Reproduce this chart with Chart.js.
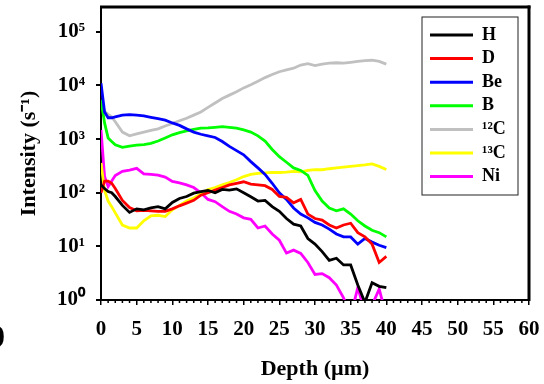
<!DOCTYPE html>
<html>
<head>
<meta charset="utf-8">
<script src="https://cdn.jsdelivr.net/npm/chart.js@4/dist/chart.umd.min.js"></script>
<style>
  html, body { margin: 0; padding: 0; background: #fff; }
</style>
</head>
<body>
<canvas id="simsChart" width="544" height="384"></canvas>
<script>
// depth in µm, shared by all series
const depth = [0, 0.5, 1, 1.5, 2, 3, 4, 5, 6, 7, 8, 9, 10, 11, 12, 13, 14, 15, 16, 17, 18, 19, 20,
  21, 22, 23, 24, 25, 26, 27, 28, 29, 30, 31, 32, 33, 34, 35, 36, 37, 38, 39, 40];

const hVals = [140, 120, 105, 100, 85, 58, 43, 50, 48, 52, 55, 50, 66, 78, 85, 98, 105, 110, 100, 115, 112, 118, 100,
  84, 70, 72, 55, 45, 33, 26, 24, 14, 11, 8, 5.5, 6, 4.5, 4.5, 1.9, 0.9, 2.1, 1.8, 1.7];
const dVals = [100, 165, 165, 150, 120, 72, 53, 46, 47, 46, 45, 45, 50, 57, 64, 72, 90, 100, 112, 125, 140, 150, 160,
  145, 140, 135, 115, 85, 82, 65, 75, 40, 33, 31, 25, 22, 25, 27, 18, 15, 11, 5, 6.5];
const beVals = [11000, 3200, 2500, 2500, 2600, 2800, 2850, 2800, 2700, 2550, 2400, 2250, 2000, 1800, 1550, 1350, 1230, 1150, 1070, 900, 730, 610, 510,
  380, 290, 220, 150, 100, 75, 52, 40, 34, 28, 25, 21, 17, 15, 15, 11, 14, 12, 10.5, 9.5];
const bVals = [5400, 2000, 1050, 900, 780, 700, 740, 770, 790, 830, 920, 1050, 1200, 1320, 1420, 1520, 1600, 1620, 1660, 1700, 1660, 1600, 1480,
  1350, 1150, 920, 640, 470, 370, 290, 260, 210, 110, 70, 52, 46, 50, 40, 30, 24, 20, 18, 15];
const c12Vals = [5000, 3300, 2900, 2600, 2100, 1350, 1150, 1250, 1350, 1450, 1550, 1750, 1950, 2200, 2450, 2800, 3200, 3900, 4700, 5700, 6600, 7600, 9000,
  10300, 12000, 14000, 16000, 18000, 19500, 21000, 24000, 25500, 23500, 25000, 26000, 26500, 26000, 27000, 28000, 29000, 29500, 28000, 25000];
const c13Vals = [360, 110, 70, 55, 42, 25, 22, 22, 30, 37, 38, 36, 48, 58, 70, 80, 95, 115, 125, 140, 155, 175, 200,
  220, 230, 235, 240, 238, 242, 250, 245, 260, 270, 268, 280, 290, 300, 310, 320, 330, 345, 310, 270];
const niVals = [1480, 200, 130, 165, 210, 250, 265, 285, 225, 220, 212, 195, 162, 152, 140, 125, 100, 75, 68, 55, 45, 40, 34,
  32, 22, 24, 17, 13, 7.5, 8.5, 7.4, 5, 3, 3.1, 2.6, 1.9, 1.1, 0.5, 1.7, 0.6, 0.8, 1.6, 0.5];

const seriesNames = ['H', 'D', 'Be', 'B', '¹²C', '¹³C', 'Ni'];
const seriesColors = ['#000000', '#ff0000', '#0000ff', '#00ff00', '#c0c0c0', '#ffff00', '#ff00ff'];
const seriesValues = [hVals, dVals, beVals, bVals, c12Vals, c13Vals, niVals];

const yTicks = [1, 10, 100, 1000, 10000, 100000];
const supDigits = ['⁰', '¹', '²', '³', '⁴', '⁵', '⁶'];

const serif = '"Liberation Serif", "Times New Roman", serif';

const datasets = seriesNames.map((name, i) => ({
  label: name,
  data: depth.map((x, j) => ({ x: x, y: seriesValues[i][j] })),
  borderColor: seriesColors[i],
  backgroundColor: seriesColors[i],
  borderWidth: 2.8,
  pointRadius: 0,
  tension: 0,
  fill: false
}));

// no extra room for the edge tick labels, the layout padding already has it
function noEdgePadding(scale) {
  scale.paddingLeft = 0;
  scale.paddingRight = 0;
  scale.paddingTop = 0;
  scale.paddingBottom = 0;
}

const framePlugin = {
  id: 'frame',
  afterLayout(chart) {
    // put the legend inside the plot, top right
    const lg = chart.legend;
    const ca = chart.chartArea;
    lg.left = ca.right - 104.6;
    lg.top = ca.top + 13.4;
    lg.width = 94;
    lg.height = 175;
    lg.right = lg.left + lg.width;
    lg.bottom = lg.top + lg.height;
  },
  afterDatasetsDraw(chart) {
    const ctx = chart.ctx;
    const ca = chart.chartArea;
    ctx.save();
    ctx.fillStyle = '#000000';
    ctx.fillRect(ca.left - 1, ca.top - 1.5, ca.right - ca.left + 2.5, 3);
    ctx.fillRect(ca.right - 1.5, ca.top - 1.5, 3, ca.bottom - ca.top + 2.5);
    ctx.restore();
  },
  afterDraw(chart) {
    const ctx = chart.ctx;
    const xs = chart.scales.x;
    const ys = chart.scales.y;
    const r = xs.right, t = ys.top, b = ys.bottom;
    ctx.save();
    ctx.fillStyle = '#000000';
    // minor ticks every 1 µm
    for (let v = 0; v <= 60; v++) {
      if (v % 5 === 0) continue;
      const px = xs.getPixelForValue(v);
      ctx.fillRect(px - 0.75, b, 1.5, 3);
    }
    // legend box
    ctx.lineWidth = 1;
    ctx.strokeStyle = '#222222';
    ctx.strokeRect(r - 107, t + 10, 96, 178);
    // cropped label at the left edge of the source figure
    ctx.font = 'bold 32px ' + serif;
    ctx.textAlign = 'right';
    ctx.textBaseline = 'middle';
    ctx.fillText('0', 5, 339);
    ctx.restore();
  }
};

new Chart(document.getElementById('simsChart'), {
  type: 'line',
  data: { datasets: datasets },
  plugins: [framePlugin],
  options: {
    responsive: false,
    animation: false,
    layout: { padding: { top: 7, right: 15, bottom: 0, left: 0 } },
    plugins: {
      tooltip: { enabled: false },
      legend: {
        position: 'chartArea',
        align: 'start',
        fullSize: false,
        labels: {
          boxWidth: 43,
          boxHeight: 3,
          padding: 5.6,
          color: '#000',
          font: { family: serif, size: 18, weight: 'bold' },
          generateLabels: (chart) => chart.data.datasets.map((ds, i) => ({
            text: ds.label,
            fillStyle: ds.borderColor,
            strokeStyle: ds.borderColor,
            lineWidth: 0,
            hidden: false,
            datasetIndex: i
          }))
        }
      }
    },
    scales: {
      x: {
        type: 'linear',
        min: 0,
        max: 60,
        afterFit: (scale) => { scale.height = 84; noEdgePadding(scale); },
        ticks: {
          stepSize: 5,
          padding: 12,
          color: '#000',
          maxRotation: 0,
          font: { family: serif, size: 21, weight: 'bold' }
        },
        grid: { drawOnChartArea: false, tickLength: 5, color: '#000', lineWidth: 1.5 },
        border: { display: true, color: '#000', width: 2 },
        title: {
          display: true,
          text: 'Depth (µm)',
          color: '#000',
          padding: { top: 0, bottom: 1 },
          font: { family: serif, size: 22, weight: 'bold' }
        }
      },
      y: {
        type: 'logarithmic',
        min: 1,
        max: 290000,
        afterFit: (scale) => { scale.width = 101; noEdgePadding(scale); },
        afterBuildTicks: (scale) => { scale.ticks = yTicks.map(v => ({ value: v })); },
        ticks: {
          padding: 11,
          color: '#000',
          font: { family: serif, size: 21, weight: 'bold' },
          callback: (v) => '10' + supDigits[Math.round(Math.log10(v))]
        },
        grid: { drawOnChartArea: false, tickLength: 5, color: '#000', lineWidth: 2 },
        border: { display: true, color: '#000', width: 2 },
        title: {
          display: true,
          text: 'Intensity (s⁻¹)',
          color: '#000',
          padding: { top: 16, bottom: 0 },
          font: { family: serif, size: 22, weight: 'bold' }
        }
      }
    }
  }
});
</script>
</body>
</html>
